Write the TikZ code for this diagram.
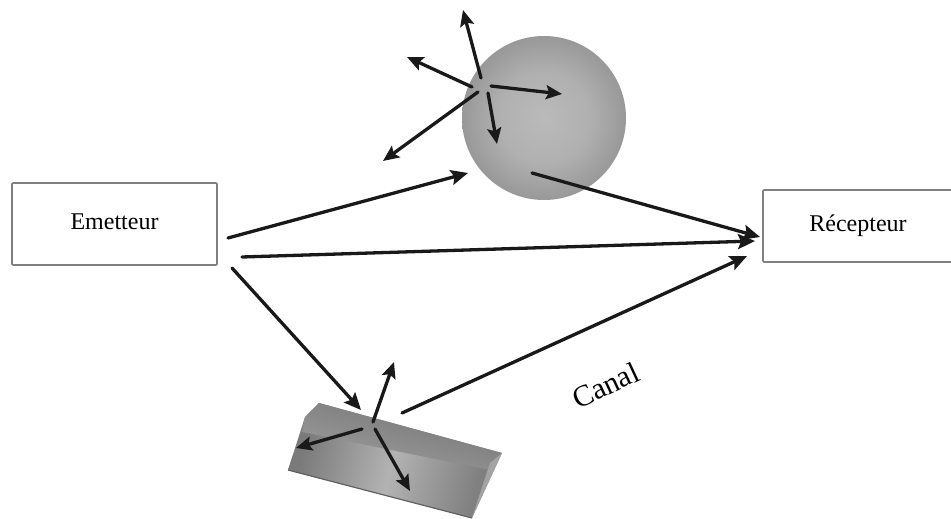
\documentclass[tikz,border=0pt]{standalone}
\usepackage{fontspec}
\setmainfont{Liberation Serif}
\usetikzlibrary{arrows.meta}
\pgfdeclareradialshading{sph}{\pgfpoint{0bp}{0bp}}{color(0bp)=(black!27); color(14bp)=(black!31); color(27bp)=(black!42); color(39bp)=(black!55); color(50bp)=(black!70)}
\tikzset{
  box/.style={draw=black!50,line width=1.7pt,fill=white,inner sep=0pt,rounded corners=1pt,font=\fontsize{24}{28}\selectfont},
  ray/.style={line width=3.3pt,black!90,line cap=round,-{Stealth[length=17pt,width=15pt,inset=3pt]}},
  smallray/.style={line width=3.3pt,black!90,line cap=round,-{Stealth[length=16pt,width=14pt,inset=3pt]}},
}
\begin{document}
\begin{tikzpicture}[x=1pt,y=-1pt]
\useasboundingbox (0,0) rectangle (951,519);
% sphere
\shade[shading=sph] (544,118) circle (82);
% prism
\shade[left color=black!50,right color=black!42,shading angle=75] (319,403) -- (305,417) -- (288,470) -- (472,518) -- (502,453) -- cycle;
\shade[left color=black!52,right color=black!50,middle color=black!30,shading angle=75] (303,427) -- (288,470) -- (472,518) -- (490,463) -- cycle;
\shade[top color=black!55,bottom color=black!38,shading angle=-15] (319,403) -- (305,417) -- (302,432) -- (490,470) -- (502,453) -- cycle;
\fill[black!36] (490,463) -- (502,453) -- (472,518) -- cycle;
\draw[black!62,line width=1.2pt] (288,470) -- (472,518);
% boxes
\node[box,minimum width=205pt,minimum height=82pt] (em) at (114.5,224) {\raisebox{5pt}{Emetteur}};
\node[box,minimum width=190pt,minimum height=72pt] (re) at (858,226) {\raisebox{2.5pt}{Récepteur}};
% label
\node[rotate=25,font=\fontsize{30}{34}\selectfont] (canal) at (605.5,385) {Canal};
% anchors
\coordinate (a1) at (228,238); \coordinate (a2) at (468,173);
\coordinate (b1) at (242,257); \coordinate (b2) at (755,241);
\coordinate (c1) at (232,268); \coordinate (c2) at (361,410);
\coordinate (d1) at (532,173); \coordinate (d2) at (760,237);
\coordinate (e1) at (402,413); \coordinate (e2) at (747,256);
\coordinate (s1a) at (481,78); \coordinate (s1b) at (463,10);
\coordinate (s2a) at (472,87); \coordinate (s2b) at (407,57);
\coordinate (s3a) at (478,92); \coordinate (s3b) at (383,161);
\coordinate (s4a) at (488,93); \coordinate (s4b) at (497,144);
\coordinate (s5a) at (491,86); \coordinate (s5b) at (562,94);
\coordinate (p1a) at (373,422); \coordinate (p1b) at (394,362);
\coordinate (p2a) at (362,429); \coordinate (p2b) at (296,448);
\coordinate (p3a) at (375,429); \coordinate (p3b) at (410,491);
% connectors
\foreach \u/\v in {a1/a2,b1/b2,c1/c2,d1/d2,e1/e2} \draw[ray] (\u) -- (\v);
\foreach \u/\v in {s1a/s1b,s2a/s2b,s3a/s3b,s4a/s4b,s5a/s5b,p1a/p1b,p2a/p2b,p3a/p3b} \draw[smallray] (\u) -- (\v);
\end{tikzpicture}
\end{document}
